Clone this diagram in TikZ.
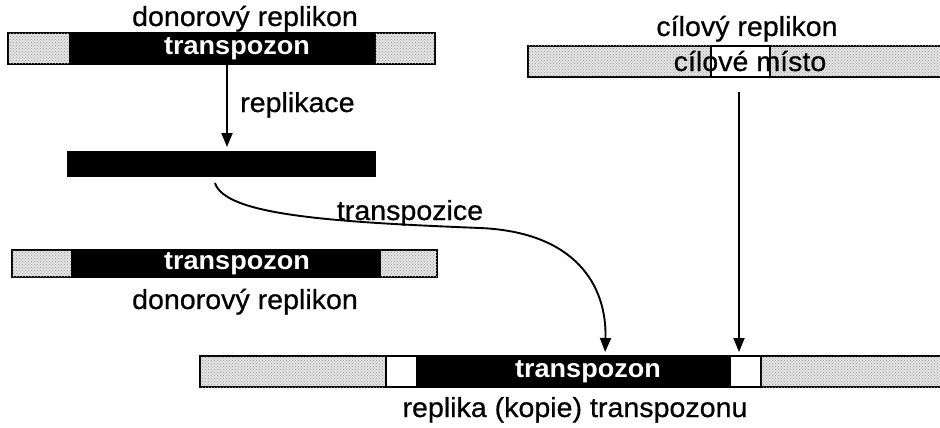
\documentclass[tikz,border=0pt]{standalone}
\usepackage{fontspec}
\setmainfont[FakeStretch=1.04]{Liberation Sans}
\newfontfamily\lblfont[FakeStretch=1.04,FakeBold=0.6]{Liberation Sans}
\usetikzlibrary{arrows.meta,fit,patterns}
\begin{document}
\begin{tikzpicture}[x=1pt,y=-1pt,
  seg/.style={draw=black, line width=2.6pt, inner sep=0pt, outer sep=0pt},
  grayseg/.style={seg, fill=gray!22, postaction={pattern=crosshatch dots, pattern color=gray!75}},
  blackseg/.style={seg, fill=black},
  whiteseg/.style={seg, fill=white},
  lbl/.style={font=\lblfont\fontsize{27.5}{32}\selectfont, inner sep=0pt, anchor=base},
  tlbl/.style={font=\bfseries\fontsize{26}{30}\selectfont, text=white, inner sep=0pt},
  arr/.style={-{Triangle[length=14pt,width=11pt]}, line width=1.9pt}
]
\useasboundingbox (0,0) rectangle (940,428);

% donor replicon (top)
\node[grayseg,  fit={(8,33)(70,64)}]   (d1l) {};
\node[blackseg, fit={(70,33)(375,64)}] (d1m) {};
\node[grayseg,  fit={(375,33)(435,64)}] (d1r) {};
\node[lbl] (d1lab) at (245,26) {donorový replikon};
\node[tlbl] (d1t) at (237,48.5) {transpozon};

% replicated transposon
\node[blackseg, fit={(68,152)(375,176)}] (rep) {};

% target replicon
\node[grayseg,  fit={(528,46)(711,77)}]  (t1l) {};
\node[whiteseg, fit={(711,46)(770,77)}]  (t1m) {};
\node[grayseg,  fit={(770,46)(944,77)}]  (t1r) {};
\node[lbl] (t1lab) at (747,36) {cílový replikon};
\node[lbl] (t1site) at (750,71) {cílové místo};

% donor replicon (after)
\node[grayseg,  fit={(12,250)(72,277)}]   (d2l) {};
\node[blackseg, fit={(72,250)(380,277)}]  (d2m) {};
\node[grayseg,  fit={(380,250)(437,277)}] (d2r) {};
\node[tlbl] (d2t) at (237,263.5) {transpozon};
\node[lbl] (d2lab) at (245,309) {donorový replikon};

% product
\node[grayseg,  fit={(200,356)(386,387)}] (bl) {};
\node[whiteseg, fit={(386,356)(417,387)}] (bw1) {};
\node[blackseg, fit={(417,356)(730,387)}] (bm) {};
\node[whiteseg, fit={(730,356)(761,387)}] (bw2) {};
\node[grayseg,  fit={(761,356)(944,387)}] (br) {};
\node[tlbl] (bt) at (588,371.5) {transpozon};
\node[lbl] (blab) at (575,417) {replika (kopie) transpozonu};

% arrows
\coordinate (a1s) at (227,64);
\draw[arr, shorten >=5pt] (a1s) -- (a1s |- rep.north);
\node[lbl, anchor=base west] (repl) at (240,112) {replikace};

\coordinate (a2s) at (739,92);
\draw[arr, shorten >=4pt] (a2s) -- (a2s |- bw2.north);

\coordinate (cs) at (215,183);
\coordinate (cm) at (480,228);
\coordinate (ce) at (605,356);
\draw[arr, shorten >=4pt] (cs) .. controls (225,215) and (330,222) .. (cm)
  .. controls (575,232) and (607,285) .. (ce);
\node[lbl] (trp) at (410,220) {transpozice};
\end{tikzpicture}
\end{document}
